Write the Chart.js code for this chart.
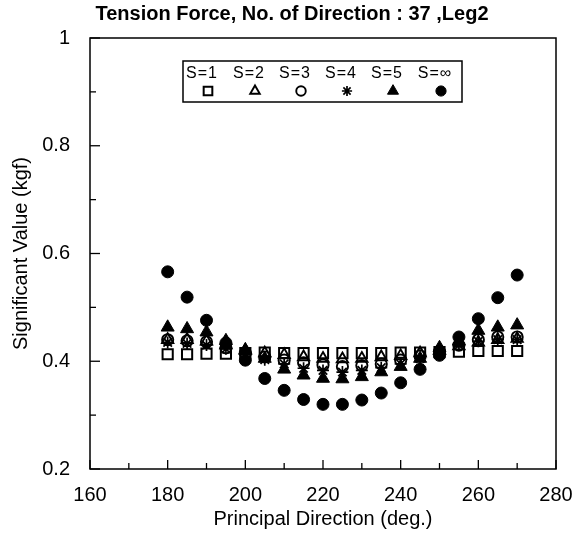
<!DOCTYPE html>
<html>
<head>
<meta charset="utf-8">
<script src="https://cdn.jsdelivr.net/npm/chart.js@4.4.1/dist/chart.umd.min.js"></script>
<style>
  html, body { margin: 0; padding: 0; background: #fff; }
  #wrap { width: 583px; height: 534px; }
</style>
</head>
<body>
<div id="wrap"><canvas id="chart" width="583" height="534"></canvas></div>
<script>
// principal directions (deg.)
const directions = [180, 185, 190, 195, 200, 205, 210, 215, 220, 225, 230, 235, 240, 245, 250, 255, 260, 265, 270];

const seriesLabels = ['S=1', 'S=2', 'S=3', 'S=4', 'S=5', 'S=\u221E'];

// significant value (kgf) per series
const valuesS1 = [0.413, 0.413, 0.414, 0.414, 0.415, 0.416, 0.415, 0.415, 0.415, 0.415, 0.415, 0.415, 0.416, 0.416, 0.417, 0.418, 0.419, 0.419, 0.419];
const valuesS2 = [0.440, 0.440, 0.437, 0.430, 0.420, 0.415, 0.412, 0.408, 0.405, 0.404, 0.405, 0.408, 0.410, 0.415, 0.420, 0.428, 0.435, 0.440, 0.442];
const valuesS3 = [0.440, 0.438, 0.436, 0.425, 0.415, 0.408, 0.402, 0.397, 0.393, 0.390, 0.392, 0.395, 0.402, 0.410, 0.418, 0.430, 0.440, 0.445, 0.445];
const valuesS4 = [0.435, 0.433, 0.430, 0.423, 0.413, 0.403, 0.395, 0.387, 0.383, 0.380, 0.383, 0.388, 0.395, 0.405, 0.420, 0.430, 0.437, 0.440, 0.440];
const valuesS5 = [0.463, 0.460, 0.454, 0.438, 0.421, 0.405, 0.385, 0.374, 0.368, 0.367, 0.371, 0.380, 0.390, 0.405, 0.425, 0.437, 0.457, 0.463, 0.467];
const valuesSinf = [0.566, 0.519, 0.476, 0.434, 0.402, 0.368, 0.346, 0.329, 0.320, 0.320, 0.328, 0.341, 0.360, 0.385, 0.411, 0.445, 0.479, 0.518, 0.560];

const xTickLabels = ['160', '180', '200', '220', '240', '260', '280'];
const yTickLabels = ['0.2', '0.4', '0.6', '0.8', '1'];

const FONT = '"Liberation Sans", Arial, Helvetica, sans-serif';

const seriesValues = [valuesS1, valuesS2, valuesS3, valuesS4, valuesS5, valuesSinf];
const markerStyles = [
  { pointStyle: 'rect', radius: 7.2, fill: false, width: 2 },
  { pointStyle: 'triangle', radius: 6.5, fill: false, width: 1.9 },
  { pointStyle: 'circle', radius: 5.6, fill: false, width: 1.9 },
  { pointStyle: 'star', radius: 6, fill: false, width: 1.7 },
  { pointStyle: 'triangle', radius: 7.5, fill: true, width: 1 },
  { pointStyle: 'circle', radius: 6, fill: true, width: 1 }
];

const datasets = seriesValues.map((vals, i) => ({
  label: seriesLabels[i],
  data: directions.map((d, j) => ({ x: d, y: vals[j] })),
  pointStyle: markerStyles[i].pointStyle,
  pointRadius: markerStyles[i].radius,
  pointBorderWidth: markerStyles[i].width,
  pointBorderColor: '#000',
  pointBackgroundColor: markerStyles[i].fill ? '#000' : 'rgba(0,0,0,0)',
  showLine: false
}));

function tickText(v) {
  return String(Math.round(v * 10) / 10);
}

// frame round the plot and inward tick marks
const frameTicks = {
  id: 'frameTicks',
  beforeDatasetsDraw(chart) {
    const { ctx, chartArea: a, scales } = chart;
    ctx.save();
    ctx.strokeStyle = '#000';
    ctx.lineWidth = 1.5;
    ctx.strokeRect(a.left, a.top, a.right - a.left, a.bottom - a.top);
    ctx.lineWidth = 1.3;
    scales.x.ticks.forEach(t => {
      const px = scales.x.getPixelForValue(t.value);
      const len = xTickLabels.includes(tickText(t.value)) ? 9 : 6;
      ctx.beginPath();
      ctx.moveTo(px, a.bottom);
      ctx.lineTo(px, a.bottom - len);
      ctx.stroke();
    });
    scales.y.ticks.forEach(t => {
      const py = scales.y.getPixelForValue(t.value);
      const len = yTickLabels.includes(tickText(t.value)) ? 10 : 6;
      ctx.beginPath();
      ctx.moveTo(a.left, py);
      ctx.lineTo(a.left + len, py);
      ctx.stroke();
    });
    ctx.restore();
  }
};

// boxed legend: label on top, marker under it
const boxLegend = {
  id: 'boxLegend',
  afterDraw(chart) {
    const ctx = chart.ctx;
    const box = { left: 183, top: 61, right: 462, bottom: 102 };
    const colX = [202, 249, 295, 341, 387, 435];
    ctx.save();
    ctx.strokeStyle = '#000';
    ctx.lineWidth = 1.5;
    ctx.strokeRect(box.left, box.top, box.right - box.left, box.bottom - box.top);
    ctx.fillStyle = '#000';
    ctx.font = '16px ' + FONT;
    ctx.textAlign = 'center';
    ctx.textBaseline = 'middle';
    if ('letterSpacing' in ctx) ctx.letterSpacing = '1px';
    chart.data.datasets.forEach((ds, i) => {
      ctx.fillText(ds.label, colX[i], 74);
    });
    if ('letterSpacing' in ctx) ctx.letterSpacing = '0px';
    chart.data.datasets.forEach((ds, i) => {
      ctx.fillStyle = ds.pointBackgroundColor;
      ctx.strokeStyle = '#000';
      ctx.lineWidth = ds.pointBorderWidth;
      Chart.helpers.drawPoint(ctx, {
        pointStyle: ds.pointStyle,
        radius: ds.pointRadius * 0.85,
        rotation: 0,
        borderWidth: ds.pointBorderWidth
      }, colX[i] + 6, 91);
    });
    ctx.restore();
  }
};

new Chart(document.getElementById('chart'), {
  type: 'scatter',
  data: { datasets },
  options: {
    responsive: false,
    animation: false,
    layout: { padding: { left: 28, right: 27, top: 0, bottom: 0 } },
    plugins: {
      legend: { display: false },
      tooltip: { enabled: false },
      title: {
        display: true,
        text: 'Tension Force, No. of Direction : 37 ,Leg2',
        color: '#000',
        font: { family: FONT, size: 20, weight: 'bold' },
        padding: { top: 2, bottom: 12 }
      }
    },
    scales: {
      x: {
        type: 'linear',
        min: 160,
        max: 280,
        grid: { display: false },
        border: { display: false },
        afterFit(scale) { scale.height = 65; },
        ticks: {
          stepSize: 10,
          autoSkip: false,
          maxRotation: 0,
          padding: 6,
          color: '#000',
          font: { family: FONT, size: 20 },
          callback: v => (xTickLabels.includes(tickText(v)) ? tickText(v) : '')
        },
        title: {
          display: true,
          text: 'Principal Direction (deg.)',
          color: '#000',
          font: { family: FONT, size: 20 },
          padding: { top: 0, bottom: 3 }
        }
      },
      y: {
        type: 'linear',
        min: 0.2,
        max: 1,
        grid: { display: false },
        border: { display: false },
        afterFit(scale) { scale.width = 62; },
        ticks: {
          stepSize: 0.1,
          autoSkip: false,
          padding: 12,
          color: '#000',
          font: { family: FONT, size: 20 },
          callback: v => (yTickLabels.includes(tickText(v)) ? tickText(v) : '')
        },
        title: {
          display: true,
          text: 'Significant Value (kgf)',
          color: '#000',
          font: { family: FONT, size: 20 },
          padding: { top: -19, bottom: 0 }
        }
      }
    }
  },
  plugins: [frameTicks, boxLegend]
});
</script>
</body>
</html>
